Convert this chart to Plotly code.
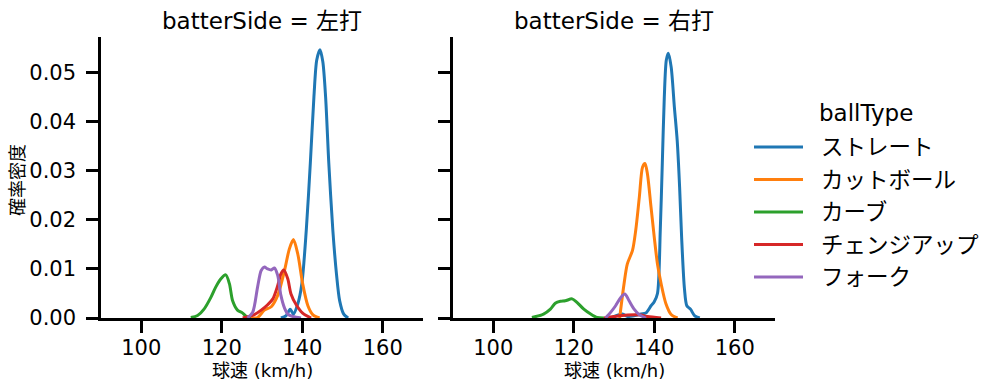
import plotly.graph_objects as go

# ---------------- data ----------------
ball_types = ["ストレート", "カットボール", "カーブ", "チェンジアップ", "フォーク"]
colors = ["#1f77b4", "#ff7f0e", "#2ca02c", "#d62728", "#9467bd"]
panels = ["左打", "右打"]

# 左打
L_straight_x = [134.7, 136.0, 137.0, 137.8, 138.9, 139.9, 141.0, 142.0, 142.9, 143.6, 144.4, 145.1, 145.8, 146.6, 147.6, 148.5, 149.3, 150.3, 151.4]
L_straight_y = [0.0, 0.0005, 0.0018, 0.0008, 0.0029, 0.0070, 0.0179, 0.0315, 0.0451, 0.0526, 0.0547, 0.0523, 0.0451, 0.0315, 0.0179, 0.0090, 0.0035, 0.0008, 0.0]
L_cut_x = [127.3, 128.9, 130.6, 132.3, 133.9, 135.6, 136.8, 137.8, 138.9, 140.1, 141.4, 142.6, 144.3]
L_cut_y = [0.0, 0.0001, 0.0016, 0.0023, 0.0046, 0.0097, 0.0141, 0.0160, 0.0130, 0.0070, 0.0025, 0.0007, 0.0]
L_curve_x = [112.3, 114.0, 115.6, 117.3, 118.5, 119.8, 121.0, 121.9, 122.7, 123.9, 125.2, 126.4, 127.3]
L_curve_y = [0.0001, 0.0005, 0.0018, 0.0042, 0.0063, 0.0080, 0.0088, 0.0070, 0.0035, 0.0016, 0.0010, 0.0001, 0.0]
L_change_x = [125.2, 128.1, 129.8, 131.4, 132.7, 133.9, 134.7, 135.4, 136.4, 137.2, 138.5, 140.1, 142.2]
L_change_y = [0.0, 0.0007, 0.0016, 0.0027, 0.0039, 0.0066, 0.0090, 0.0098, 0.0080, 0.0049, 0.0027, 0.0010, 0.0]
L_fork_x = [126.4, 127.7, 128.9, 129.8, 130.6, 131.4, 132.3, 133.1, 133.9, 134.7, 135.6, 136.4, 137.7, 139.7]
L_fork_y = [0.0, 0.0012, 0.0063, 0.0097, 0.0104, 0.0100, 0.0098, 0.0102, 0.0087, 0.0046, 0.0020, 0.0008, 0.0003, 0.0]

# 右打
R_straight_x = [129.2, 132.1, 133.4, 136.7, 137.9, 139.2, 140.0, 140.8, 141.5, 142.0, 142.5, 143.0, 143.5, 144.2, 145.0, 145.7, 146.3, 146.8, 147.5, 148.1, 149.0, 150.0, 151.3]
R_straight_y = [0.0, 0.0008, 0.0003, 0.0008, 0.0010, 0.0025, 0.0033, 0.0050, 0.0180, 0.0315, 0.0451, 0.0526, 0.0540, 0.0512, 0.0430, 0.0362, 0.0267, 0.0165, 0.0060, 0.0025, 0.0018, 0.0005, 0.0]
R_cut_x = [131.4, 132.5, 133.3, 134.6, 135.4, 136.3, 137.1, 137.7, 138.3, 139.2, 140.0, 140.8, 141.7, 142.9, 144.2, 145.8]
R_cut_y = [0.0, 0.0070, 0.0110, 0.0138, 0.0179, 0.0247, 0.0308, 0.0315, 0.0294, 0.0226, 0.0165, 0.0110, 0.0070, 0.0029, 0.0007, 0.0]
R_curve_x = [109.6, 112.5, 114.2, 115.4, 116.7, 117.9, 119.6, 120.8, 122.5, 124.2, 125.8, 127.5]
R_curve_y = [0.0001, 0.0008, 0.0018, 0.0030, 0.0034, 0.0035, 0.0039, 0.0032, 0.0018, 0.0008, 0.0001, 0.0]
R_change_x = [127.5, 130.0, 133.3, 136.7, 138.3, 141.7]
R_change_y = [0.0, 0.0003, 0.0006, 0.0006, 0.0003, 0.0]
R_fork_x = [127.9, 129.2, 130.4, 131.7, 132.7, 133.75, 135.0, 136.25, 137.9]
R_fork_y = [0.0, 0.0012, 0.0025, 0.0042, 0.0049, 0.0035, 0.0018, 0.0007, 0.0]

x_ticks = [100, 120, 140, 160]
y_ticks = [0.00, 0.01, 0.02, 0.03, 0.04, 0.05]

series = {
    "左打": [(L_straight_x, L_straight_y), (L_cut_x, L_cut_y), (L_curve_x, L_curve_y), (L_change_x, L_change_y), (L_fork_x, L_fork_y)],
    "右打": [(R_straight_x, R_straight_y), (R_cut_x, R_cut_y), (R_curve_x, R_curve_y), (R_change_x, R_change_y), (R_fork_x, R_fork_y)],
}

FONT = "DejaVu Sans, Noto Sans CJK JP"
fig = go.Figure()

for pi, side in enumerate(panels):
    xa = "x" if pi == 0 else "x2"
    ya = "y" if pi == 0 else "y2"
    for bi, (bt, col) in enumerate(zip(ball_types, colors)):
        xs, ys = series[side][bi]
        fig.add_trace(go.Scatter(
            x=xs, y=ys, mode="lines", name=bt,
            line=dict(color=col, width=3, shape="spline", smoothing=0.8),
            xaxis=xa, yaxis=ya, showlegend=False,
        ))

W, H = 999, 391
L, R, T, B = 101, 224, 37, 73
pw = W - L - R
ph = H - T - B
d1 = [0, (423 - L) / pw]
d2 = [(453 - L) / pw, 1]

axis_common = dict(
    showline=True, linecolor="black", linewidth=2.5, ticks="outside", ticklen=12,
    tickwidth=2.5, tickcolor="black", showgrid=False, zeroline=False, automargin=False,
    tickfont=dict(family=FONT, size=21, color="black"),
)

def px_x(p):
    return (p - L) / pw

def px_y(p):
    return (H - B - p) / ph

annotations = [
    dict(text="batterSide = 左打", x=sum(d1) / 2, y=px_y(21), font=dict(family=FONT, size=23)),
    dict(text="batterSide = 右打", x=sum(d2) / 2, y=px_y(21), font=dict(family=FONT, size=23)),
    dict(text="球速 (km/h)", x=sum(d1) / 2, y=px_y(370), font=dict(family=FONT, size=18)),
    dict(text="球速 (km/h)", x=sum(d2) / 2, y=px_y(370), font=dict(family=FONT, size=18)),
    dict(text="確率密度", x=px_x(17), y=px_y(180), textangle=-90, font=dict(family=FONT, size=18)),
    dict(text="ballType", x=px_x(866), y=px_y(113), font=dict(family=FONT, size=23)),
]
shapes = []
legend_y = [147, 179.5, 212, 244.5, 277]
for bt, col, ly in zip(ball_types, colors, legend_y):
    shapes.append(dict(type="line", xref="paper", yref="paper", x0=px_x(754), x1=px_x(803),
                       y0=px_y(ly), y1=px_y(ly), line=dict(color=col, width=3)))
    annotations.append(dict(text=bt, x=px_x(819), y=px_y(ly), xanchor="left",
                            font=dict(family=FONT, size=22.5)))
for a in annotations:
    a.setdefault("xanchor", "center")
    a.update(xref="paper", yref="paper", showarrow=False, yanchor="middle")

fig.update_layout(
    width=W, height=H,
    margin=dict(l=L, r=R, t=T, b=B),
    plot_bgcolor="white", paper_bgcolor="white",
    font=dict(family=FONT, color="black"),
    showlegend=False,
    xaxis=dict(domain=d1, range=[90, 170], tickvals=x_ticks, anchor="y", ticklabelstandoff=-3, **axis_common),
    xaxis2=dict(domain=d2, range=[90, 170], tickvals=x_ticks, anchor="y2", ticklabelstandoff=-3, **axis_common),
    yaxis=dict(range=[0, 0.0573], tickvals=y_ticks, tickformat=".2f", anchor="x", ticklabelstandoff=6, **axis_common),
    yaxis2=dict(range=[0, 0.0573], tickvals=y_ticks, showticklabels=False, anchor="x2", **axis_common),
    annotations=annotations,
    shapes=shapes,
)

fig.write_html("out.html", config={"displayModeBar": False},
               post_script="document.body.style.margin='0';")
